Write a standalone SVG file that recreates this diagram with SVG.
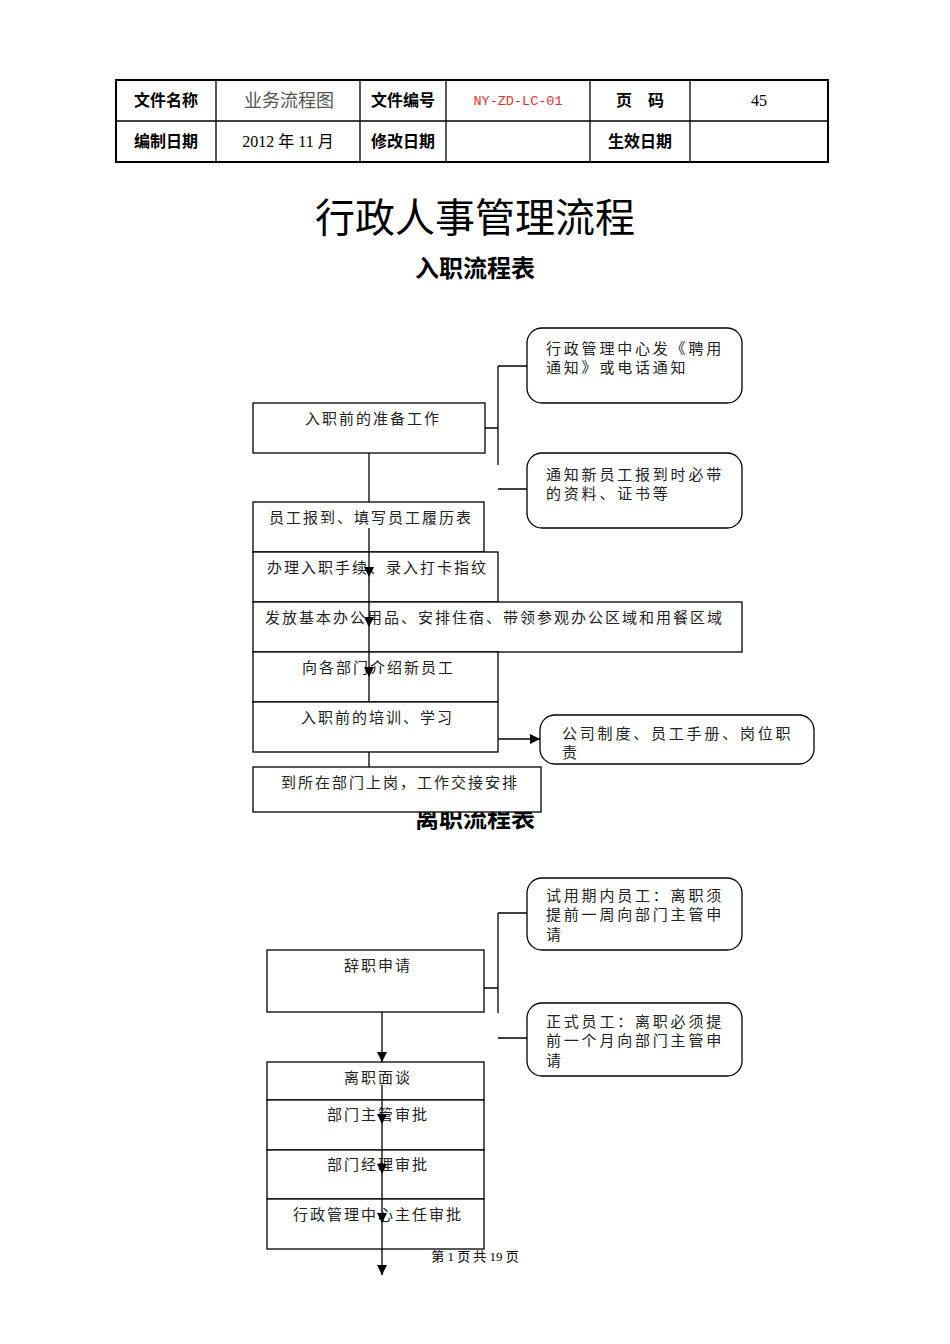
<svg xmlns="http://www.w3.org/2000/svg" width="950" height="1344" viewBox="0 0 950 1344">
<defs>
<marker id="ah" markerUnits="userSpaceOnUse" markerWidth="10" markerHeight="10" refX="10" refY="5" orient="auto"><path d="M0,0 L10,5 L0,10 Z" fill="#000"/></marker>
<style>
.b{fill:#fff;stroke:#000;stroke-width:1.3}
.r{fill:#fff;stroke:#000;stroke-width:1.3}
.ln{fill:none;stroke:#000;stroke-width:1.3}
.t{font-family:"Noto Sans CJK SC","Liberation Serif",serif;font-size:15px;fill:#222;letter-spacing:2px}
.tr{font-family:"Noto Sans CJK SC","Liberation Serif",serif;font-size:15px;fill:#222;letter-spacing:2.8px}
.h{font-family:"Noto Sans CJK SC","Liberation Sans",sans-serif;font-size:16px;font-weight:bold;fill:#000;text-anchor:middle}
.hn{font-family:"Liberation Serif","Noto Sans CJK SC",serif;font-size:16px;fill:#000;text-anchor:middle}
</style>
</defs>
<rect width="950" height="1344" fill="#fff"/>
<g id="header">
<rect x="116" y="80" width="712" height="82" fill="none" stroke="#000" stroke-width="2"/>
<path class="ln" d="M116,121 H828 M216,80 V162 M360,80 V162 M446,80 V162 M590,80 V162 M690,80 V162"/>
<text class="h" x="166" y="106">文件名称</text>
<text x="289" y="107" font-family="Noto Sans CJK SC, sans-serif" font-size="18" fill="#555" text-anchor="middle">业务流程图</text>
<text class="h" x="403" y="106">文件编号</text>
<text x="518" y="105" font-family="Liberation Mono, monospace" font-size="13.5" fill="#e03030" text-anchor="middle">NY-ZD-LC-01</text>
<text class="h" x="640" y="106">页　码</text>
<text class="hn" x="759" y="106">45</text>
<text class="h" x="166" y="147">编制日期</text>
<text x="288" y="147" font-family="Liberation Serif, Noto Sans CJK SC, serif" font-size="16" text-anchor="middle">2012 <tspan font-family="Noto Sans CJK SC, sans-serif">年</tspan> 11 <tspan font-family="Noto Sans CJK SC, sans-serif">月</tspan></text>
<text class="h" x="403" y="147">修改日期</text>
<text class="h" x="640" y="147">生效日期</text>
</g>
<text x="475" y="232" font-family="Noto Sans CJK SC, sans-serif" font-size="40" text-anchor="middle" fill="#000">行政人事管理流程</text>
<text x="475" y="277" font-family="Noto Sans CJK SC, sans-serif" font-size="24" font-weight="bold" text-anchor="middle" fill="#000">入职流程表</text>
<text x="475" y="827" font-family="Noto Sans CJK SC, sans-serif" font-size="24" font-weight="bold" text-anchor="middle" fill="#000">离职流程表</text>

<g id="n1"><rect class="b" x="253" y="403" width="232" height="50"/><text class="t" x="305" y="423.5">入职前的准备工作</text></g>
<g id="nA"><rect class="r" x="527" y="328" width="215" height="75" rx="15"/><text class="tr" x="546" y="353.5">行政管理中心发《聘用</text><text class="tr" x="546" y="372.5">通知》或电话通知</text></g>
<g id="nB"><rect class="r" x="527" y="453" width="215" height="75" rx="15"/><text class="tr" x="546" y="479.5">通知新员工报到时必带</text><text class="tr" x="546" y="498.5">的资料、证书等</text></g>
<g id="n2"><rect class="b" x="253" y="502" width="231" height="50"/><text class="t" x="269" y="522.5">员工报到、填写员工履历表</text></g>
<g id="n3"><rect class="b" x="253" y="552" width="245" height="50"/><text class="t" x="267" y="572.5">办理入职手续、录入打卡指纹</text></g>
<g id="n4"><rect class="b" x="253" y="602" width="489" height="50"/><text class="t" x="265" y="622.5">发放基本办公用品、安排住宿、带领参观办公区域和用餐区域</text></g>
<g id="n5"><rect class="b" x="253" y="652" width="245" height="50"/><text class="t" x="302" y="672.5">向各部门介绍新员工</text></g>
<g id="n6"><rect class="b" x="253" y="702" width="245" height="50"/><text class="t" x="301" y="722.5">入职前的培训、学习</text></g>
<g id="nC"><rect class="r" x="540" y="715" width="274" height="49" rx="15"/><text class="tr" x="562" y="738.5">公司制度、员工手册、岗位职</text><text class="tr" x="562" y="757.5">责</text></g>
<g id="n7"><rect class="b" x="253" y="767" width="288" height="45"/><text class="t" x="281" y="787.5">到所在部门上岗，工作交接安排</text></g>

<g id="m1"><rect class="b" x="267" y="950" width="217" height="62"/><text class="t" x="344" y="970.5">辞职申请</text></g>
<g id="mD"><rect class="r" x="527" y="878" width="215" height="72" rx="15"/><text class="tr" x="546" y="900.5">试用期内员工：离职须</text><text class="tr" x="546" y="919.5">提前一周向部门主管申</text><text class="tr" x="546" y="939.5">请</text></g>
<g id="mE"><rect class="r" x="527" y="1003" width="215" height="73" rx="15"/><text class="tr" x="546" y="1026.5">正式员工：离职必须提</text><text class="tr" x="546" y="1045.5">前一个月向部门主管申</text><text class="tr" x="546" y="1065.5">请</text></g>
<g id="m2"><rect class="b" x="267" y="1062" width="217" height="38"/><text class="t" x="344" y="1082.5">离职面谈</text></g>
<g id="m3"><rect class="b" x="267" y="1100" width="217" height="50"/><text class="t" x="327" y="1119.5">部门主管审批</text></g>
<g id="m4"><rect class="b" x="267" y="1150" width="217" height="49"/><text class="t" x="327" y="1169.5">部门经理审批</text></g>
<g id="m5"><rect class="b" x="267" y="1199" width="217" height="50"/><text class="t" x="293" y="1219.5">行政管理中心主任审批</text></g>

<g id="connectors">
<path class="ln" d="M485,428 H498 M498,366 V465 M498,366 H527 M498,489 H527"/>
<path class="ln" d="M369,453 V502"/>
<path class="ln" d="M369,528 V577" marker-end="url(#ah)"/>
<path class="ln" d="M369,577 V627" marker-end="url(#ah)"/>
<path class="ln" d="M369,627 V677" marker-end="url(#ah)"/>
<path class="ln" d="M369,677 V702"/>
<path class="ln" d="M369,752 V767"/>
<path class="ln" d="M498,739 H540" marker-end="url(#ah)"/>
<path class="ln" d="M484,988 H498 M498,913 V1013 M498,913 H527 M498,1038 H527"/>
<path class="ln" d="M382,1012 V1062" marker-end="url(#ah)"/>
<path class="ln" d="M382,1085 V1124" marker-end="url(#ah)"/>
<path class="ln" d="M382,1124 V1174" marker-end="url(#ah)"/>
<path class="ln" d="M382,1174 V1223" marker-end="url(#ah)"/>
<path class="ln" d="M382,1223 V1275" marker-end="url(#ah)"/>
</g>
<text x="475" y="1261" font-family="Liberation Serif, Noto Sans CJK SC, serif" font-size="13" text-anchor="middle" fill="#000"><tspan font-family="Noto Sans CJK SC, sans-serif">第</tspan> 1 <tspan font-family="Noto Sans CJK SC, sans-serif">页 共</tspan> 19 <tspan font-family="Noto Sans CJK SC, sans-serif">页</tspan></text>
</svg>
